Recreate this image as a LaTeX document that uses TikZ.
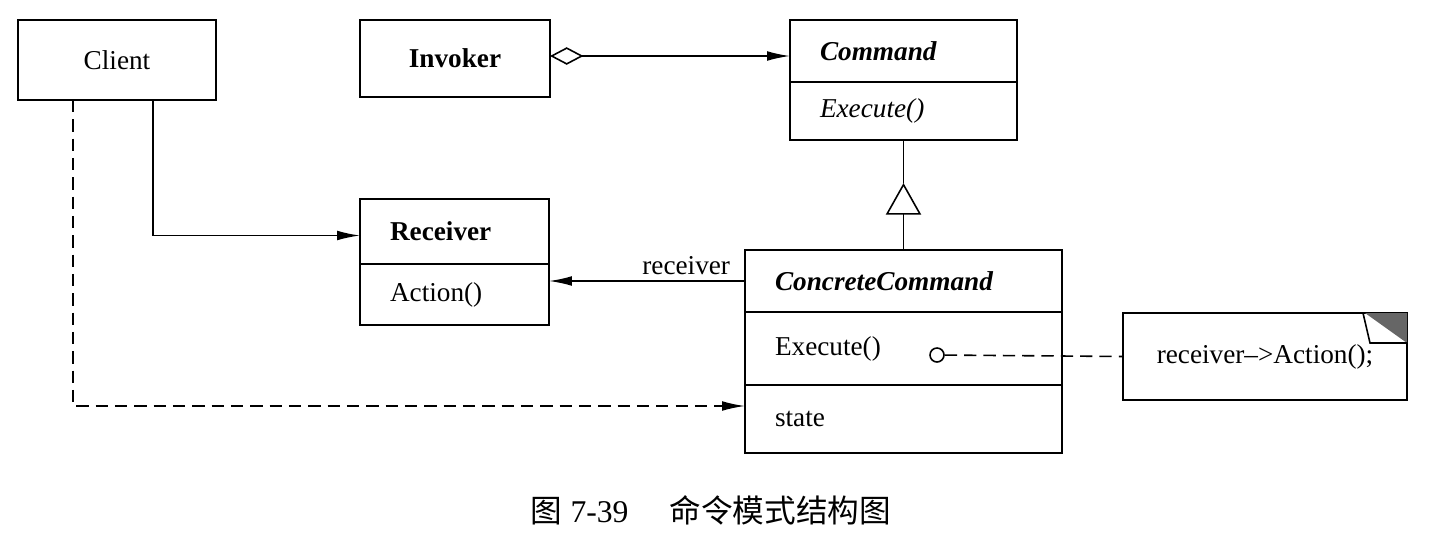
\documentclass[tikz,border=0pt]{standalone}
\usepackage{fontspec}
\setmainfont{Liberation Serif}
\newfontfamily\cjk{Noto Sans CJK SC}
\usetikzlibrary{arrows.meta,positioning}

\begin{document}
\begin{tikzpicture}[
            every node/.style={font=\fontsize{15.5}{18}\selectfont},
            box/.style={draw,line width=0.9pt,inner sep=0pt,outer sep=0pt,align=center},
            part/.style n args={2}{draw,line width=0.9pt,outer sep=0pt,inner ysep=0pt,inner xsep=0.6cm,
                                   align=left,text width=#1,minimum height=#2},
            to/.style={-{Latex[length=13pt,width=5.5pt]},line width=0.9pt},
            agg/.style={{Diamond[open,length=19pt,width=10pt]}-{Latex[length=13pt,width=5.5pt]},line width=0.9pt},
            inherit/.style={-{Triangle[open,length=18pt,width=20pt]},line width=0.9pt},
            dep/.style={line width=0.9pt,dash pattern=on 7pt off 4pt}]

            \useasboundingbox (0,0) rectangle (28.62,-10.76);

            \node[box,minimum width=3.96cm,minimum height=1.6cm] (client) at (2.34,-1.2) {Client};
            \node[box,minimum width=3.8cm,minimum height=1.54cm] (invoker) at (9.1,-1.17) {\textbf{Invoker}};

            \node[part={3.34cm}{1.24cm}] (cmdname) at (18.07,-1.02) {\textbf{\textit{Command}}};
            \node[part={3.34cm}{1.16cm},below=0pt of cmdname] (cmdops) {\textit{Execute()}};

            \node[part={2.58cm}{1.3cm}] (recname) at (9.09,-4.63) {\textbf{Receiver}};
            \node[part={2.58cm}{1.22cm},below=0pt of recname] (recops) {Action()};

            \node[part={5.14cm}{1.24cm}] (ccname) at (18.07,-5.62) {\textbf{\textit{ConcreteCommand}}};
            \node[part={5.14cm}{1.46cm},below=0pt of ccname] (ccops) {Execute()};
            \node[part={5.14cm}{1.36cm},below=0pt of ccops] (ccstate) {state};

            \node[box,minimum width=5.68cm,minimum height=1.74cm] (note) at (25.3,-7.13) {receiver\textendash>Action();};
            \fill[black!60] ([xshift=-0.84cm]note.north east) -- (note.north east) -- ([yshift=-0.6cm]note.north east) -- cycle;
            \draw[line width=0.9pt] ([xshift=-0.88cm]note.north east) -- ++(0.14,-0.6) -- ++(0.74,0);

            \node[draw,circle,line width=0.9pt,minimum size=0.28cm,inner sep=0pt] (knob) at (18.74,-7.1) {};
            \coordinate (tip) at (18.07,-3.66);

            \draw[agg] ([yshift=0.05cm]invoker.east) -- ([yshift=0.05cm]invoker.east -| cmdname.west);
            \draw[inherit] (ccname.north) -- (tip);
            \draw[line width=0.9pt] (tip) -- (cmdops.south);
            \draw[to] ([xshift=0.72cm]client.south) |- ([yshift=-0.08cm]recname.west);
            \draw[to,dep] ([xshift=-0.88cm]client.south) |- ([yshift=0.26cm]ccstate.west);
            \draw[to] (ccname.west) -- node[pos=0.3,above] {receiver} (ccname.west -| recops.east);
            \draw[dep] (knob) -- (note.west);

            \node[font=\fontsize{18}{22}\selectfont] (caption) at (14.22,-10.2) {{\cjk 图} 7-39\hspace{1.3em}{\cjk 命令模式结构图}};
        \end{tikzpicture}
\end{document}
